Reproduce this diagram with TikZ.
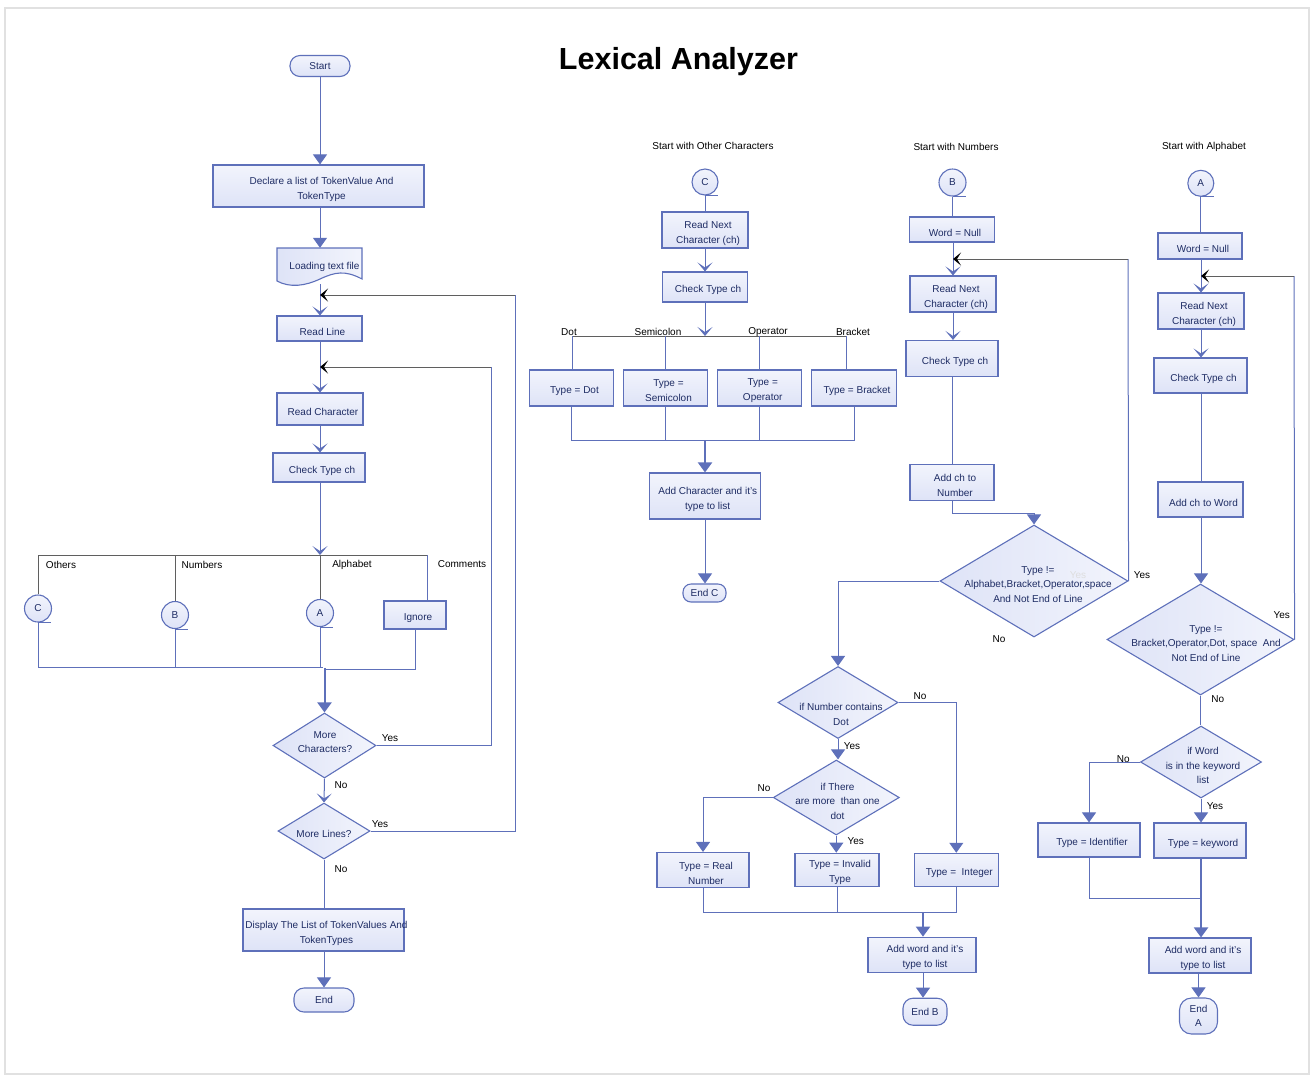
\documentclass[tikz,border=0pt]{standalone}
\usepackage{fontspec}
\setmainfont{Liberation Sans}
\usetikzlibrary{arrows.meta,shapes.geometric}
\definecolor{lb}{RGB}{94,112,186}
\definecolor{tb}{RGB}{30,44,100}
\definecolor{bt}{RGB}{242,244,252}
\definecolor{bb}{RGB}{222,227,247}
\definecolor{gl}{RGB}{95,95,95}
\definecolor{fr}{RGB}{225,225,225}
\begin{document}
\begin{tikzpicture}[x=1pt,y=-1pt,
  every node/.style={font=\fontsize{10}{14.5}\selectfont},
  box/.style={rectangle, draw=lb, line width=1.1pt, top color=bt, bottom color=bb, text=tb, align=center, inner sep=0pt},
  T/.style={label={[dtext, font=\fontsize{10}{15}\selectfont, xshift=3pt, yshift=-3pt]center:{#1}}},
  pill/.style={box, rounded corners=10pt},
  dia/.style={diamond, draw=lb, line width=1.1pt, left color=bb, right color=bt, inner sep=0pt},
  dtext/.style={text=tb, align=center, inner sep=0pt},
  conn/.style={circle, draw=lb, line width=1.1pt, top color=bt, bottom color=bb, text=tb, inner sep=0pt, minimum size=27pt},
  lbl/.style={text=black, inner sep=0pt},
  ln/.style={draw=lb, line width=1pt},
  tri/.style={ln, -{Triangle[width=14pt,length=10pt]}},
  chev/.style={ln, -{Stealth[width=15pt,length=9pt,inset=5pt]}},
  thk/.style={draw=lb, line width=2pt, -{Triangle[width=14pt,length=10pt]}},
  gry/.style={draw=gl, line width=1pt},
  back/.style={draw=gl, line width=1pt, -{Stealth[width=13pt,length=8pt,inset=4pt,color=black]}},
]
\useasboundingbox (0,0) rectangle (1316,1080);
\draw[fr, line width=2pt] (5,8) rectangle (1308.5,1074);

\node[font=\fontsize{30.5}{36}\selectfont\bfseries] (title) at (678.5,62) {Lexical Analyzer};

% ---------------- left column ----------------
\coordinate (sp) at (320,0);
\node[pill, minimum width=60pt, minimum height=21pt] (start) at (320,66) {Start};
\node[box, minimum width=211pt, minimum height=42pt, T={Declare a list of TokenValue And\\TokenType}] (decl) at (318.5,186) {};
\path[draw=lb, line width=1.1pt, left color=bb, right color=bt] (277,248) -- (362,248) -- (362,279) .. controls (345,270) and (335,272) .. (320,279) .. controls (305,286) and (290,288) .. (277,281) -- cycle;
\node[inner sep=0pt, minimum width=85pt, minimum height=36pt, label={[dtext, xshift=5pt, yshift=-1pt]center:{Loading text file}}] (load) at (319.5,266) {};
\node[box, minimum width=85pt, minimum height=25pt, T={Read Line}] (rl) at (319.5,328.5) {};
\node[box, minimum width=86pt, minimum height=32pt, T={Read Character}] (rc) at (320,409) {};
\node[box, minimum width=92pt, minimum height=29pt, T={Check Type ch}] (ct1) at (319,467.5) {};
\coordinate (br1) at (320,555);
\draw[tri] (start.south) -- (decl.north -| sp);
\draw[tri] (decl.south -| sp) -- (load.north -| sp);
\draw[chev] (load.south -| sp) -- (rl.north -| sp);
\draw[chev] (rl.south -| sp) -- (rc.north -| sp);
\draw[chev] (rc.south -| sp) -- (ct1.north -| sp);
\draw[chev] (ct1.south -| sp) -- (br1);

\node[conn] (cC) at (38,608.5) {C};
\node[conn] (cB) at (175,615) {B};
\node[conn] (cA) at (320,613) {A};
\node[box, minimum width=62pt, minimum height=28pt, T={Ignore}] (ign) at (415,615) {};
\foreach \n in {cC,cB,cA} \draw[ln] (\n.south) -- ++(13,0);
\coordinate (brR) at (427,555);
\draw[gry] (cC.north) |- (brR);
\draw[gry] (cB.north) -- (cB.north |- br1);
\draw[gry] (cA.north) -- (br1);
\draw[ln] (brR) -- (brR |- ign.north);
\node[lbl] (lo) at (61,565) {Others};
\node[lbl] (lnum) at (202,565) {Numbers};
\node[lbl] (lal) at (352,565) {Alphabet};
\node[lbl] (lcm) at (462,564) {Comments};

\coordinate (m1) at (323,667);
\coordinate (m2) at (324,669);
\coordinate (m3) at (324.5,668);
\draw[ln] (cC.south) |- (m1);
\draw[ln] (cB.south) -- (cB.south |- m1);
\draw[ln] (cA.south) -- (cA.south |- m1);
\draw[ln] (ign.south) |- (m2);

\node[dia, minimum width=103pt, minimum height=65pt] (mc) at (324.5,745.5) {};
\node[dtext] (mct) at (325,742) {More\\Characters?};
\draw[thk] (m3) -- (mc.north);
\coordinate (lp2) at (491,367);
\coordinate (j2) at (320,367);
\draw[ln] (mc.east) -| (lp2);
\draw[back] (lp2) -- (j2);
\node[lbl] (ymc) at (390,738) {Yes};

\node[dia, minimum width=92pt, minimum height=56pt] (ml) at (324,831) {};
\node[dtext] (mlt) at (324,834) {More Lines?};
\draw[chev] (mc.south) -- (ml.north);
\node[lbl] (nmc) at (341,785) {No};
\coordinate (lp1) at (515,295);
\coordinate (j1) at (320,295);
\draw[ln] (ml.east) -| (lp1);
\draw[back] (lp1) -- (j1);
\node[lbl] (yml) at (380,824) {Yes};

\node[box, minimum width=161pt, minimum height=42pt, T={Display The List of TokenValues And\\TokenTypes}] (disp) at (323.5,930) {};
\draw[ln] (ml.south) -- (ml.south |- disp.north);
\node[lbl] (nml) at (341,869) {No};
\node[pill, minimum width=60pt, minimum height=24pt] (endL) at (324,1000) {End};
\draw[tri] (disp.south -| endL.north) -- (endL.north);

% ---------------- column 2 ----------------
\node[lbl] (h2) at (713,146) {Start with Other Characters};
\node[conn, minimum size=26pt] (c2) at (705,182) {C};
\draw[ln] (c2.south) -- ++(13,0);
\node[box, minimum width=86pt, minimum height=36pt, T={Read Next\\Character (ch)}] (rn2) at (705,230) {};
\draw[ln] (c2.south) -- (rn2.north);
\node[box, minimum width=85pt, minimum height=30pt, T={Check Type ch}] (ct2) at (705,287) {};
\draw[chev] (rn2.south) -- (ct2.north);
\coordinate (br2) at (705,336);
\draw[chev] (ct2.south) -- (br2);
\node[box, minimum width=84pt, minimum height=36pt, T={Type = Dot}] (tdot) at (571.5,388) {};
\node[box, minimum width=84pt, minimum height=36pt, T={Type =\\Semicolon}] (tsem) at (665.5,388) {};
\node[box, minimum width=84pt, minimum height=36pt, T={Type =\\Operator}] (topr) at (759.7,388) {};
\node[box, minimum width=85pt, minimum height=36pt, T={Type = Bracket}] (tbr) at (854,388) {};
\coordinate (bl2) at (572,336);
\coordinate (brr2) at (846,336);
\draw[gry] (bl2) -- (brr2);
\draw[ln] (bl2) -- (bl2 |- tdot.north);
\draw[ln] (tsem.north |- br2) -- (tsem.north);
\draw[ln] (topr.north |- br2) -- (topr.north);
\draw[ln] (brr2) -- (brr2 |- tbr.north);
\node[lbl] (ldot) at (569,332) {Dot};
\node[lbl] (lsem) at (658,332) {Semicolon};
\node[lbl] (lop) at (768,332) {Operator};
\node[lbl] (lbr) at (853,332) {Bracket};
\coordinate (mb2) at (705,440);
\draw[ln] (tdot.south) -- (tdot.south |- mb2) -- (tbr.south |- mb2) -- (tbr.south);
\draw[ln] (tsem.south) -- (tsem.south |- mb2);
\draw[ln] (topr.south) -- (topr.south |- mb2);
\node[box, minimum width=111pt, minimum height=46pt, T={Add Character and it's\\type to list}] (add2) at (704.7,496) {};
\draw[thk] (mb2) -- (mb2 |- add2.north);
\node[pill, minimum width=43pt, minimum height=18pt, rounded corners=8pt] (endC) at (704.5,593) {End C};
\draw[tri] (add2.south -| mb2) -- (mb2 |- endC.north);

% ---------------- column 3 ----------------
\node[lbl] (h3) at (956,147) {Start with Numbers};
\node[conn] (cB2) at (952.5,182.5) {B};
\draw[ln] (cB2.south) -- ++(13,0);
\coordinate (s3) at (953,0);
\node[box, minimum width=85pt, minimum height=25pt, T={Word = Null}] (wn3) at (952,229.5) {};
\draw[ln] (cB2.south) -- (cB2.south |- wn3.north);
\node[box, minimum width=86pt, minimum height=36pt, T={Read Next\\Character (ch)}] (rn3) at (953,294) {};
\draw[chev] (wn3.south -| s3) -- (rn3.north -| s3);
\node[box, minimum width=92pt, minimum height=36pt, T={Check Type ch}] (ct3) at (952,358.5) {};
\draw[chev] (rn3.south -| s3) -- (ct3.north -| s3);
\node[box, minimum width=84pt, minimum height=36pt, T={Add ch to\\Number}] (ad3) at (952,482.5) {};
\draw[ln] (ct3.south) -- (ad3.north);
\node[dia, minimum width=188pt, minimum height=112pt] (d3) at (1034,581) {};
\node[dtext] (d3t) at (1038,584.5) {Type !=\\Alphabet,Bracket,Operator,space\\And Not End of Line};
\draw[tri] (ad3.south) -- ++(0,12) -| (d3.north);
\node[lbl, text=black!13] (fy) at (1078,575) {Yes};
\node[lbl] (y3) at (1142,575) {Yes};
\coordinate (lp3) at (1128,259);
\coordinate (j3) at (953,259);
\draw[ln] (d3.east) -- (lp3);
\draw[back] (lp3) -- (j3);
\node[lbl] (n3) at (999,639) {No};

\node[dia, minimum width=120pt, minimum height=72pt] (d4) at (838,702.5) {};
\node[dtext] (d4t) at (841,714.5) {if Number contains\\Dot};
\draw[tri] (d3.west) -| (d4.north);
\node[lbl] (n4) at (920,696) {No};
\node[box, minimum width=84pt, minimum height=33pt, T={Type = \ Integer}] (tint) at (956.3,869.8) {};
\draw[tri] (d4.east) -| (tint.north);
\node[lbl] (y4) at (852,746.5) {Yes};
\node[dia, minimum width=126pt, minimum height=75pt] (d5) at (836.3,797.5) {};
\node[dtext] (d5t) at (837.5,801) {if There\\are more \ than one\\dot};
\draw[tri] (d4.south) -- (d4.south |- d5.north);
\node[lbl] (n5) at (764,788) {No};
\node[box, minimum width=92pt, minimum height=35pt, T={Type = Real\\Number}] (treal) at (703,870) {};
\draw[tri] (d5.west) -| (treal.north);
\node[lbl] (y5) at (855.7,840.7) {Yes};
\node[box, minimum width=84pt, minimum height=33pt, T={Type = Invalid\\Type}] (tinv) at (837,869.7) {};
\draw[tri] (d5.south) -- (d5.south |- tinv.north);
\coordinate (mb3) at (923,912);
\draw[ln] (treal.south) -- (treal.south |- mb3) -- (tint.south |- mb3) -- (tint.south);
\draw[ln] (tinv.south) -- (tinv.south |- mb3);
\node[box, minimum width=108pt, minimum height=35pt, T={Add word and it's\\type to list}] (add3) at (922,954.7) {};
\draw[thk] (mb3) -- (mb3 |- add3.north);
\node[pill, minimum width=44pt, minimum height=27pt] (endB) at (925,1011.7) {End B};
\draw[tri] (add3.south -| mb3) -- (mb3 |- endB.north);

% ---------------- column 4 ----------------
\node[lbl] (h4) at (1204,147) {Start with Alphabet};
\node[conn, minimum size=26pt] (cA2) at (1200.8,183.3) {A};
\draw[ln] (cA2.south) -- ++(13,0);
\coordinate (s4) at (1201,0);
\node[box, minimum width=84pt, minimum height=26pt, T={Word = Null}] (wn4) at (1200,246) {};
\draw[ln] (cA2.south) -- (cA2.south |- wn4.north);
\node[box, minimum width=86pt, minimum height=36pt, T={Read Next\\Character (ch)}] (rn4) at (1201,311) {};
\draw[chev] (wn4.south -| s4) -- (rn4.north);
\node[box, minimum width=93pt, minimum height=35pt, T={Check Type ch}] (ct4) at (1200.5,375.5) {};
\draw[chev] (rn4.south) -- (rn4.south |- ct4.north);
\node[box, minimum width=85pt, minimum height=35pt, T={Add ch to Word}] (ad4) at (1200.5,499.5) {};
\draw[ln] (ct4.south -| s4) -- (ad4.north -| s4);
\node[dia, minimum width=187pt, minimum height=111pt] (d6) at (1200.5,639.5) {};
\node[dtext] (d6t) at (1206,643.5) {Type !=\\Bracket,Operator,Dot, space \ And\\Not End of Line};
\draw[tri] (ad4.south -| s4) -- (d6.north -| s4);
\node[lbl] (y6) at (1281.7,615) {Yes};
\coordinate (lp4) at (1294,276);
\coordinate (j4) at (1201,276);
\draw[ln] (d6.east) -- (lp4);
\draw[back] (lp4) -- (j4);
\node[lbl] (n6) at (1217.7,699.3) {No};
\node[dia, minimum width=121pt, minimum height=72pt] (d7) at (1201,762) {};
\node[dtext] (d7t) at (1203,765.5) {if Word\\is in the keyword\\list};
\draw[ln] (d6.south) -- (d6.south |- d7.north);
\node[lbl] (n7) at (1123.3,759.3) {No};
\node[box, minimum width=102pt, minimum height=34pt, T={Type = Identifier}] (tid) at (1089,840) {};
\draw[tri] (d7.west) -| (tid.north);
\node[lbl] (y7) at (1215,806) {Yes};
\node[box, minimum width=92pt, minimum height=35pt, T={Type = keyword}] (tkw) at (1200,840.5) {};
\draw[tri] (d7.south) -- (d7.south |- tkw.north);
\coordinate (mb4) at (1201,898);
\draw[ln] (tid.south) |- (mb4);
\node[box, minimum width=102pt, minimum height=35pt, T={Add word and it's\\type to list}] (add4) at (1200,955.5) {};
\draw[thk] (tkw.south -| mb4) -- (mb4 |- add4.north);
\node[pill, minimum width=38pt, minimum height=36pt, rounded corners=12pt] (endA) at (1198.5,1016) {End\\A};
\draw[tri] (add4.south -| endA.north) -- (endA.north);
\end{tikzpicture}
\end{document}
